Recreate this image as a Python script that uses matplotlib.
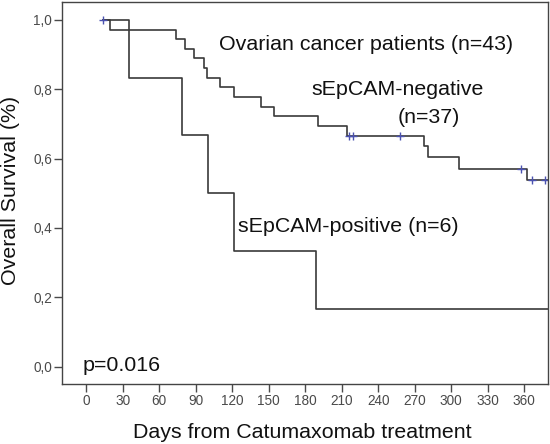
import numpy as np
import matplotlib
matplotlib.use("Agg")
import matplotlib.pyplot as plt

plt.rcParams['font.family'] = ['Liberation Sans', 'DejaVu Sans']

# Kaplan-Meier steps (days, survival after the step)
neg_times = [13.7, 19.3, 73.5, 80.9, 88.5, 97.0, 99.0, 109.9, 121.2, 143.4, 154.0, 190.7, 214.6, 277.9, 280.7, 306.4, 362.0]
neg_surv = [1.0, 0.972, 0.944, 0.917, 0.889, 0.861, 0.833, 0.806, 0.778, 0.750, 0.722, 0.694, 0.666, 0.635, 0.603, 0.571, 0.538]
neg_censored = [13.7, 216.2, 219.0, 257.9, 357.4, 366.2, 377.1]

pos_times = [13.7, 35.4, 78.4, 99.8, 121.2, 188.8]
pos_surv = [1.0, 0.833, 0.667, 0.500, 0.333, 0.167]

x_end = 379.3
x_ticks = list(range(0, 361, 30))
y_ticks = [0.0, 0.2, 0.4, 0.6, 0.8, 1.0]
y_tick_labels = ["0,0", "0,2", "0,4", "0,6", "0,8", "1,0"]

line_color = "#3a3a3a"
censor_color = "#4b52b0"
text_color = "#111111"
fs = 15.4


def surv_at(times, surv, t):
    idx = np.searchsorted(times, t, side='right') - 1
    return np.array(surv)[idx]


fig = plt.figure(figsize=(5.5, 4.44), dpi=100)
ax = fig.add_axes([0.1136, 0.1351, 0.9958 - 0.1136, 0.9966 - 0.1351])

ax.step(neg_times + [x_end], neg_surv + [neg_surv[-1]], where='post', color=line_color, lw=1.2)
ax.step(pos_times + [x_end], pos_surv + [pos_surv[-1]], where='post', color=line_color, lw=1.2)
ax.plot(neg_censored, surv_at(neg_times, neg_surv, neg_censored), '+', color=censor_color,
        ms=6, mew=1.0, linestyle='none')

ax.set_xlim(-19.6, x_end)
ax.set_ylim(-0.0505, 1.053)
ax.set_xticks(x_ticks)
ax.set_yticks(y_ticks)
ax.set_yticklabels(y_tick_labels)
ax.tick_params(axis='both', colors="#4a4a4a", labelsize=9.8, length=6, width=1, pad=1.5)
for sp in ax.spines.values():
    sp.set_color("#444444")
    sp.set_linewidth(1.0)

# axis titles placed as figure text
fig.text(302.5 / 550, 1 - 438 / 444, "Days from Catumaxomab treatment", fontsize=fs,
         ha='center', va='baseline', color=text_color)
fig.text(11 / 550, 1 - 190 / 444, "Overall Survival (%)", fontsize=fs, rotation=90,
         ha='center', va='center', color=text_color)

ax.text(109.1, 0.928, "Ovarian cancer patients (n=43)", fontsize=fs, ha='left', va='center', color=text_color)
ax.text(184.7, 0.798, "sEpCAM-negative", fontsize=fs, ha='left', va='center', color=text_color)
ax.text(256.0, 0.717, "(n=37)", fontsize=fs, ha='left', va='center', color=text_color)
ax.text(124.7, 0.405, "sEpCAM-positive (n=6)", fontsize=fs, ha='left', va='center', color=text_color)
ax.text(-3.1, 0.004, "p=0.016", fontsize=fs, ha='left', va='center', color=text_color)

fig.savefig("out.png", dpi=100)
